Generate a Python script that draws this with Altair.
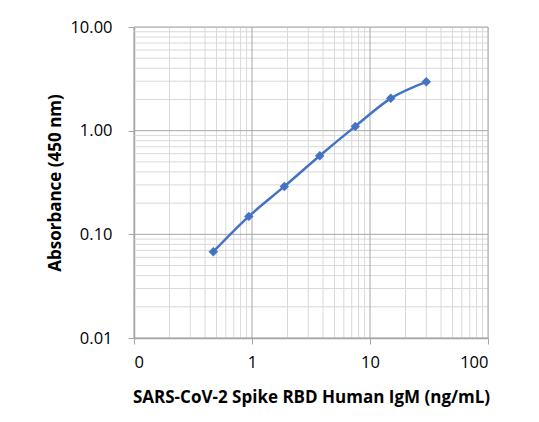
import altair as alt
import pandas as pd

# Data
conc = [0.47, 0.94, 1.88, 3.75, 7.5, 15, 30]
absorbance = [0.068, 0.149, 0.290, 0.573, 1.10, 2.05, 2.96]

x_major = [0.1, 1, 10, 100]
x_minor = [0.2, 0.3, 0.4, 0.5, 0.6, 0.7, 0.8, 0.9,
           2, 3, 4, 5, 6, 7, 8, 9,
           20, 30, 40, 50, 60, 70, 80, 90]
y_major = [0.01, 0.1, 1, 10]
y_minor = [0.02, 0.03, 0.04, 0.05, 0.06, 0.07, 0.08, 0.09,
           0.2, 0.3, 0.4, 0.5, 0.6, 0.7, 0.8, 0.9,
           2, 3, 4, 5, 6, 7, 8, 9]

df = pd.DataFrame({"conc": conc, "abs": absorbance})

FONT = "Open Sans"
BLUE = "#4472C4"
AXIS_GRAY = "#A6A6A6"

xs = alt.Scale(type="log", domain=[0.1, 100], nice=False)
ys = alt.Scale(type="log", domain=[0.01, 10], nice=False)

x_axis = alt.Axis(
    values=x_major,
    labelExpr="datum.value < 1 ? '0' : format(datum.value, 'd')",
    grid=False, domainColor=AXIS_GRAY, domainWidth=1.5,
    tickColor=AXIS_GRAY, tickSize=6, tickWidth=1,
    labelFont=FONT, labelFontSize=16.5, labelColor="#000000", labelPadding=10,
    title="SARS-CoV-2 Spike RBD Human IgM (ng/mL)",
    titleFont=FONT, titleFontSize=17, titleFontWeight="bold", titleColor="#000000",
    titlePadding=19,
)
y_axis = alt.Axis(
    values=y_major, format=".2f",
    grid=False, domainColor=AXIS_GRAY, domainWidth=1.5,
    tickColor=AXIS_GRAY, tickSize=6, tickWidth=1,
    labelFont=FONT, labelFontSize=16.5, labelColor="#000000", labelPadding=16,
    title="Absorbance (450 nm)",
    titleFont=FONT, titleFontSize=17, titleFontWeight="bold", titleColor="#000000",
    titlePadding=5,
)

vminor = alt.Chart(pd.DataFrame({"v": x_minor})).mark_rule(
    color="#D9D9D9", strokeWidth=1).encode(x=alt.X("v:Q", scale=xs, axis=x_axis))
vmajor = alt.Chart(pd.DataFrame({"v": x_major})).mark_rule(
    color="#A6A6A6", strokeWidth=1).encode(x=alt.X("v:Q", scale=xs, axis=x_axis))
hminor = alt.Chart(pd.DataFrame({"h": y_minor})).mark_rule(
    color="#D9D9D9", strokeWidth=1).encode(y=alt.Y("h:Q", scale=ys, axis=y_axis))
hmajor = alt.Chart(pd.DataFrame({"h": y_major})).mark_rule(
    color="#A6A6A6", strokeWidth=1).encode(y=alt.Y("h:Q", scale=ys, axis=y_axis))

line = alt.Chart(df).mark_line(interpolate="monotone", color=BLUE, strokeWidth=2.5).encode(
    x=alt.X("conc:Q", scale=xs, axis=x_axis),
    y=alt.Y("abs:Q", scale=ys, axis=y_axis),
)
pts = alt.Chart(df).mark_point(shape="diamond", filled=True, size=90, color=BLUE, opacity=1).encode(
    x=alt.X("conc:Q", scale=xs, axis=x_axis),
    y=alt.Y("abs:Q", scale=ys, axis=y_axis),
)

chart = alt.layer(vminor, hminor, vmajor, hmajor, line, pts).properties(
    width=354, height=311,
    padding={"left": 38, "top": 11, "right": 5, "bottom": 5},
).configure_view(stroke=None).configure(background="white")

chart.save("out.html", embed_options={"renderer": "svg", "actions": False})
